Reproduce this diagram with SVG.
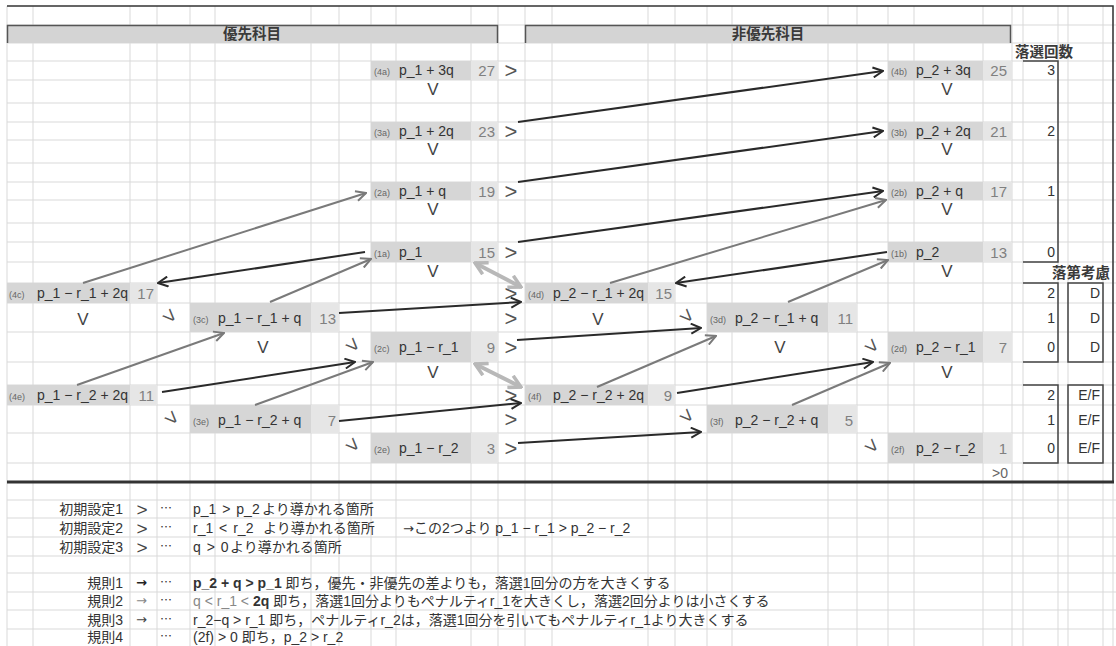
<svg xmlns="http://www.w3.org/2000/svg" width="1116" height="646" viewBox="0 0 1116 646">
<style>
text{font-family:"Liberation Sans","Noto Sans CJK JP",sans-serif;font-size:14px;fill:#333}
.grid{stroke:#d9d9d9;stroke-width:1;fill:none}
.c{fill:#d6d6d6}
.cn{fill:#e6e6e6}
.s{font-size:9px;fill:#666}
.n{fill:#808080;text-anchor:end;font-size:15px}
.sym{font-size:22px;fill:#555;text-anchor:middle;dominant-baseline:central}
.sy2{font-size:19px;fill:#444;text-anchor:middle;dominant-baseline:central}
.v{font-size:17px;fill:#444;text-anchor:middle}
.hd{font-family:"Noto Sans CJK JP",sans-serif;font-size:14.5px;font-weight:bold;fill:#3a3a3a}
.jp{font-family:"Noto Sans CJK JP",sans-serif;font-size:12px}
.r{text-anchor:end}
.bx{stroke:#444;stroke-width:1.5;fill:none}
.dk{stroke:#2a2a2a;stroke-width:2;fill:none;marker-end:url(#ad)}
.gy{stroke:#7a7a7a;stroke-width:2;fill:none;marker-end:url(#ag)}
.wd{stroke:#b8b8b8;stroke-width:4;fill:none;marker-start:url(#aw);marker-end:url(#aw)}
.ar{font-family:"DejaVu Sans",sans-serif;font-size:13px}
.lt{word-spacing:2px}
</style>
<defs>
<marker id="ad" viewBox="0 0 12 12" refX="11" refY="6" markerWidth="12" markerHeight="12" markerUnits="userSpaceOnUse" orient="auto"><path d="M1,1 L11,6 L1,11" fill="none" stroke="#2a2a2a" stroke-width="2"/></marker>
<marker id="ag" viewBox="0 0 12 12" refX="11" refY="6" markerWidth="12" markerHeight="12" markerUnits="userSpaceOnUse" orient="auto"><path d="M1,1 L11,6 L1,11" fill="none" stroke="#7a7a7a" stroke-width="2"/></marker>
<marker id="aw" viewBox="0 0 16 16" refX="14" refY="8" markerWidth="16" markerHeight="16" markerUnits="userSpaceOnUse" orient="auto-start-reverse"><path d="M2,1.5 L14,8 L2,14.5" fill="none" stroke="#b8b8b8" stroke-width="3.5"/></marker>
</defs>
<rect width="1116" height="646" fill="#fff"/>
<g id="grid">
<path class="grid" d="M7,6V646M33,6V646M130,6V646M157,6V646M190,6V646M215,6V646M311,6V646M339,6V646M371,6V646M396,6V646M471,6V646M498,6V646M525,6V646M552,6V646M648,6V646M675,6V646M707,6V646M732,6V646M828,6V646M857,6V646M888,6V646M914,6V646M983,6V646M1012,6V646M1023,6V646M1058,6V646M1068,6V646M1103,6V646M1113,6V646"/>
<path class="grid" d="M7,25H1116M7,43H1116M7,61H1116M7,80H1116M7,103H1116M7,122H1116M7,140H1116M7,163H1116M7,182H1116M7,200H1116M7,223H1116M7,242H1116M7,262H1116M7,283H1116M7,303H1116M7,332H1116M7,362H1116M7,385H1116M7,405H1116M7,433H1116M7,463H1116M7,500H1116M7,518H1116M7,537H1116M7,556H1116M7,573H1116M7,592H1116M7,610H1116M7,629H1116"/>
</g>
<g id="frame">
<path d="M7,6H1113V482" stroke="#333" stroke-width="1.5" fill="none"/>
<path d="M7,482H1114" stroke="#333" stroke-width="3" fill="none"/>
</g>
<g id="hdr1"><rect x="7" y="25" width="491" height="18" fill="#d4d4d4"/><path d="M7.5,43V25.5H497.5V43" stroke="#555" stroke-width="1.5" fill="none"/><text x="252" y="39" class="hd" text-anchor="middle">優先科目</text></g>
<g id="hdr2"><rect x="525" y="25" width="486" height="18" fill="#d4d4d4"/><path d="M525.5,43V25.5H1010.5V43" stroke="#555" stroke-width="1.5" fill="none"/><text x="768" y="39" class="hd" text-anchor="middle">非優先科目</text></g>

<g id="n4a"><rect x="371" y="61" width="100" height="19" class="c"/><rect x="471" y="61" width="27" height="19" class="cn"/><text x="374" y="75" class="s">(4a)</text><text x="399" y="75">p_1 + 3q</text><text x="495" y="76" class="n">27</text></g>
<g id="n3a"><rect x="371" y="122" width="100" height="18" class="c"/><rect x="471" y="122" width="27" height="18" class="cn"/><text x="374" y="136" class="s">(3a)</text><text x="399" y="136">p_1 + 2q</text><text x="495" y="137" class="n">23</text></g>
<g id="n2a"><rect x="371" y="182" width="100" height="18" class="c"/><rect x="471" y="182" width="27" height="18" class="cn"/><text x="374" y="196" class="s">(2a)</text><text x="399" y="196">p_1 + q</text><text x="495" y="197" class="n">19</text></g>
<g id="n1a"><rect x="371" y="242" width="100" height="20" class="c"/><rect x="471" y="242" width="27" height="20" class="cn"/><text x="374" y="257" class="s">(1a)</text><text x="399" y="257">p_1</text><text x="495" y="258" class="n">15</text></g>
<g id="n4b"><rect x="888" y="61" width="95" height="19" class="c"/><rect x="983" y="61" width="29" height="19" class="cn"/><text x="891" y="75" class="s">(4b)</text><text x="916" y="75">p_2 + 3q</text><text x="1007" y="76" class="n">25</text></g>
<g id="n3b"><rect x="888" y="122" width="95" height="18" class="c"/><rect x="983" y="122" width="29" height="18" class="cn"/><text x="891" y="136" class="s">(3b)</text><text x="916" y="136">p_2 + 2q</text><text x="1007" y="137" class="n">21</text></g>
<g id="n2b"><rect x="888" y="182" width="95" height="18" class="c"/><rect x="983" y="182" width="29" height="18" class="cn"/><text x="891" y="196" class="s">(2b)</text><text x="916" y="196">p_2 + q</text><text x="1007" y="197" class="n">17</text></g>
<g id="n1b"><rect x="888" y="242" width="95" height="20" class="c"/><rect x="983" y="242" width="29" height="20" class="cn"/><text x="891" y="257" class="s">(1b)</text><text x="916" y="257">p_2</text><text x="1007" y="258" class="n">13</text></g>

<g id="n4c"><rect x="7" y="283" width="123" height="20" class="c"/><rect x="130" y="283" width="27" height="20" class="cn"/><text x="9" y="298" class="s">(4c)</text><text x="37" y="298">p_1 − r_1 + 2q</text><text x="154" y="299" class="n">17</text></g>
<g id="n3c"><rect x="190" y="303" width="121" height="29" class="c"/><rect x="311" y="303" width="28" height="29" class="cn"/><text x="193" y="323" class="s">(3c)</text><text x="218" y="323">p_1 − r_1 + q</text><text x="336" y="324" class="n">13</text></g>
<g id="n2c"><rect x="371" y="332" width="100" height="30" class="c"/><rect x="471" y="332" width="27" height="30" class="cn"/><text x="374" y="352" class="s">(2c)</text><text x="399" y="352">p_1 − r_1</text><text x="495" y="353" class="n">9</text></g>
<g id="n4e"><rect x="7" y="385" width="123" height="20" class="c"/><rect x="130" y="385" width="27" height="20" class="cn"/><text x="9" y="400" class="s">(4e)</text><text x="37" y="400">p_1 − r_2 + 2q</text><text x="154" y="401" class="n">11</text></g>
<g id="n3e"><rect x="190" y="405" width="121" height="28" class="c"/><rect x="311" y="405" width="28" height="28" class="cn"/><text x="193" y="425" class="s">(3e)</text><text x="218" y="425">p_1 − r_2 + q</text><text x="336" y="426" class="n">7</text></g>
<g id="n2e"><rect x="371" y="433" width="100" height="30" class="c"/><rect x="471" y="433" width="27" height="30" class="cn"/><text x="374" y="453" class="s">(2e)</text><text x="399" y="453">p_1 − r_2</text><text x="495" y="454" class="n">3</text></g>

<g id="n4d"><rect x="525" y="283" width="123" height="20" class="c"/><rect x="648" y="283" width="27" height="20" class="cn"/><text x="528" y="298" class="s">(4d)</text><text x="553" y="298">p_2 − r_1 + 2q</text><text x="672" y="299" class="n">15</text></g>
<g id="n3d"><rect x="707" y="303" width="121" height="29" class="c"/><rect x="828" y="303" width="29" height="29" class="cn"/><text x="710" y="323" class="s">(3d)</text><text x="735" y="323">p_2 − r_1 + q</text><text x="853" y="324" class="n">11</text></g>
<g id="n2d"><rect x="888" y="332" width="95" height="30" class="c"/><rect x="983" y="332" width="29" height="30" class="cn"/><text x="891" y="352" class="s">(2d)</text><text x="916" y="352">p_2 − r_1</text><text x="1007" y="353" class="n">7</text></g>
<g id="n4f"><rect x="525" y="385" width="123" height="20" class="c"/><rect x="648" y="385" width="27" height="20" class="cn"/><text x="528" y="400" class="s">(4f)</text><text x="553" y="400">p_2 − r_2 + 2q</text><text x="672" y="401" class="n">9</text></g>
<g id="n3f"><rect x="707" y="405" width="121" height="28" class="c"/><rect x="828" y="405" width="29" height="28" class="cn"/><text x="710" y="425" class="s">(3f)</text><text x="735" y="425">p_2 − r_2 + q</text><text x="853" y="426" class="n">5</text></g>
<g id="n2f"><rect x="888" y="433" width="95" height="30" class="c"/><rect x="983" y="433" width="29" height="30" class="cn"/><text x="891" y="453" class="s">(2f)</text><text x="916" y="453">p_2 − r_2</text><text x="1007" y="454" class="n">1</text></g>

<g id="gt">
<text x="511" y="70.5" class="sym">&gt;</text>
<text x="511" y="131" class="sym">&gt;</text>
<text x="511" y="191" class="sym">&gt;</text>
<text x="511" y="252" class="sym">&gt;</text>
<text x="511" y="293" class="sym">&gt;</text>
<text x="511" y="318" class="sym">&gt;</text>
<text x="511" y="347" class="sym">&gt;</text>
<text x="511" y="395" class="sym">&gt;</text>
<text x="511" y="419" class="sym">&gt;</text>
<text x="511" y="448" class="sym">&gt;</text>
</g>
<g id="vs">
<text x="433" y="95" class="v">V</text>
<text x="433" y="155" class="v">V</text>
<text x="433" y="215" class="v">V</text>
<text x="433" y="277" class="v">V</text>
<text x="433" y="378" class="v">V</text>
<text x="947" y="95" class="v">V</text>
<text x="947" y="155" class="v">V</text>
<text x="947" y="215" class="v">V</text>
<text x="947" y="277" class="v">V</text>
<text x="947" y="378" class="v">V</text>
<text x="83" y="325" class="v">V</text>
<text x="263" y="353" class="v">V</text>
<text x="598" y="325" class="v">V</text>
<text x="780" y="353" class="v">V</text>
</g>
<g id="diag">
<text x="170" y="316" class="sym" transform="rotate(45 170 316)">&gt;</text>
<text x="353" y="345" class="sym" transform="rotate(45 353 345)">&gt;</text>
<text x="172" y="418" class="sym" transform="rotate(45 172 418)">&gt;</text>
<text x="353" y="445" class="sym" transform="rotate(45 353 445)">&gt;</text>
<text x="687" y="316" class="sym" transform="rotate(45 687 316)">&gt;</text>
<text x="687" y="416" class="sym" transform="rotate(45 687 416)">&gt;</text>
<text x="872" y="346" class="sym" transform="rotate(45 872 346)">&gt;</text>
<text x="872" y="446" class="sym" transform="rotate(45 872 446)">&gt;</text>
</g>

<g id="counts">
<text x="1015" y="57" class="hd">落選回数</text>
<path class="bx" d="M1023,61H1058V262H1023"/>
<text x="1055" y="75" class="r">3</text>
<text x="1055" y="136" class="r">2</text>
<text x="1055" y="196" class="r">1</text>
<text x="1055" y="257" class="r">0</text>
</g>
<g id="fail">
<text x="1052" y="278" class="hd">落第考慮</text>
<path class="bx" d="M1023,283H1058V362H1023"/>
<rect class="bx" x="1068" y="283" width="35" height="79"/>
<text x="1055" y="298" class="r">2</text>
<text x="1055" y="323" class="r">1</text>
<text x="1055" y="352" class="r">0</text>
<text x="1100" y="298" class="r">D</text>
<text x="1100" y="323" class="r">D</text>
<text x="1100" y="352" class="r">D</text>
<path class="bx" d="M1023,385H1058V463H1023"/>
<rect class="bx" x="1068" y="385" width="35" height="78"/>
<text x="1055" y="400" class="r">2</text>
<text x="1055" y="425" class="r">1</text>
<text x="1055" y="453" class="r">0</text>
<text x="1100" y="400" class="r">E/F</text>
<text x="1100" y="425" class="r">E/F</text>
<text x="1100" y="453" class="r">E/F</text>
<text x="1008" y="478" class="r" style="fill:#666">&gt;0</text>
</g>

<g id="connectors">
<path class="dk" d="M518,122L883,71"/>
<path class="dk" d="M518,182L883,131"/>
<path class="dk" d="M518,242L883,191"/>
<path class="dk" d="M365,252L158,283"/>
<path class="dk" d="M339,313L521,302"/>
<path class="dk" d="M162,392L355,362"/>
<path class="dk" d="M339,421L521,403"/>
<path class="dk" d="M517,340L701,328"/>
<path class="dk" d="M518,443L701,432"/>
<path class="dk" d="M677,393L873,362"/>
<path class="dk" d="M887,252L676,283"/>
<path class="gy" d="M83,283L366,193"/>
<path class="gy" d="M610,283L886,200"/>
<path class="gy" d="M270,302L371,259"/>
<path class="gy" d="M77,385L224,333"/>
<path class="gy" d="M255,405L373,362"/>
<path class="gy" d="M597,387L716,336"/>
<path class="gy" d="M792,405L890,363"/>
<path class="gy" d="M788,302L888,260"/>
<path class="wd" d="M475,263L521,287"/>
<path class="wd" d="M475,364L521,387"/>
</g>

<g id="notes">
<text x="123" y="514" class="r">初期設定1</text><text x="142" y="509" class="sy2">&gt;</text><text x="160" y="513" class="jp">…</text><text x="193" y="514"><tspan class="lt">p_1 &gt; p_2</tspan><tspan x="262">より導かれる箇所</tspan></text>
<text x="123" y="533" class="r">初期設定2</text><text x="142" y="528" class="sy2">&gt;</text><text x="160" y="532" class="jp">…</text><text x="193" y="533"><tspan class="lt">r_1 &lt; r_2</tspan><tspan x="263">より導かれる箇所</tspan></text><text x="403" y="533"><tspan class="ar">→</tspan>この2つより p_1 − r_1 &gt; p_2 − r_2</text>
<text x="123" y="552" class="r">初期設定3</text><text x="142" y="547" class="sy2">&gt;</text><text x="160" y="551" class="jp">…</text><text x="193" y="552"><tspan class="lt">q &gt; 0</tspan><tspan x="230">より導かれる箇所</tspan></text>
<text x="123" y="588" class="r">規則1</text><text x="136" y="587" class="ar" style="font-weight:bold;fill:#222">→</text><text x="160" y="587" class="jp">…</text><text x="193" y="588"><tspan font-weight="bold">p_2 + q &gt; p_1</tspan> 即ち，優先・非優先の差よりも，落選1回分の方を大きくする</text>
<text x="123" y="606" class="r">規則2</text><text x="136" y="605" class="ar" style="fill:#888">→</text><text x="160" y="605" class="jp">…</text><text x="193" y="606"><tspan style="fill:#888">q &lt; r_1 &lt;</tspan> <tspan font-weight="bold">2q</tspan> 即ち，落選1回分よりもペナルティr_1を大きくし，落選2回分よりは小さくする</text>
<text x="123" y="625" class="r">規則3</text><text x="136" y="624" class="ar" style="fill:#444">→</text><text x="160" y="624" class="jp">…</text><text x="193" y="625">r_2−q &gt; r_1 即ち，ペナルティr_2は，落選1回分を引いてもペナルティr_1より大きくする</text>
<text x="123" y="642" class="r">規則4</text><text x="160" y="641" class="jp">…</text><text x="193" y="642">(2f) &gt; 0 即ち，p_2 &gt; r_2</text>
</g>
</svg>
